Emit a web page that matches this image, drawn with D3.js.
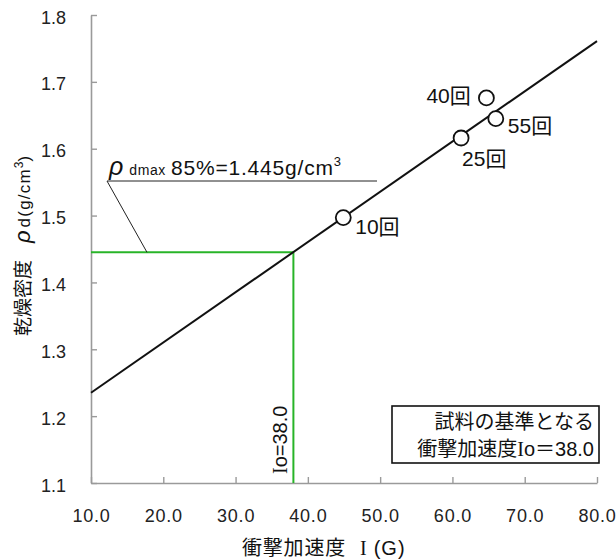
<!DOCTYPE html>
<html>
<head>
<meta charset="utf-8">
<script src="https://cdn.jsdelivr.net/npm/d3@7/dist/d3.min.js"></script>
<style>
  html, body { margin: 0; padding: 0; background: #fff; }
  svg { display: block; }
  .num { font-family: "Liberation Sans", Arial, sans-serif; }
  .jp { font-family: "Liberation Sans", "Noto Sans CJK JP", sans-serif; }
  .serif { font-family: "Liberation Serif", "Times New Roman", serif; }
</style>
</head>
<body>
<svg id="chart" width="616" height="559"></svg>
<script>
// Impact acceleration vs. dry density
const blowLabels = ["10回", "25回", "40回", "55回"];
const accel = [44.9, 61.2, 64.7, 66.0];
const density = [1.497, 1.616, 1.676, 1.645];

// fitted line end points
const fitX = [10, 80];
const fitY = [1.235, 1.761];

// reference density (85% of max) and the matching acceleration
const rhoTarget = 1.445;
const io = 38.0;

const xTicks = [10, 20, 30, 40, 50, 60, 70, 80];
const yTicks = [1.1, 1.2, 1.3, 1.4, 1.5, 1.6, 1.7, 1.8];

const svg = d3.select("#chart");
const x = d3.scaleLinear().domain([10, 80]).range([91, 597]);
const y = d3.scaleLinear().domain([1.1, 1.8]).range([483, 15]);

const axisColor = "#9a9a9a";

// axes
const xAxis = svg.append("g").attr("transform", `translate(0,${y(1.1)})`)
  .call(d3.axisBottom(x).tickValues(xTicks).tickSizeInner(-6).tickSizeOuter(0).tickFormat(d3.format(".1f")).tickPadding(26));
const yAxis = svg.append("g").attr("transform", `translate(${x(10)},0)`)
  .call(d3.axisLeft(y).tickValues(yTicks).tickSizeInner(-6).tickSizeOuter(0).tickFormat(d3.format(".1f")).tickPadding(25));

[xAxis, yAxis].forEach(g => {
  g.select(".domain").attr("stroke", axisColor).attr("stroke-width", 1.6);
  g.selectAll(".tick line").attr("stroke", axisColor).attr("stroke-width", 1.4);
  g.selectAll(".tick text")
    .attr("class", "num")
    .attr("fill", "#222")
    .style("font-size", "18px");
});
xAxis.selectAll(".tick text").attr("dy", "0.71em").style("letter-spacing", "0.8px");
yAxis.selectAll(".tick text").attr("dy", "0.45em");

// reference lines (green)
const green = "#28b428";
svg.append("line")
  .attr("x1", x(10)).attr("x2", x(io))
  .attr("y1", y(rhoTarget)).attr("y2", y(rhoTarget))
  .attr("stroke", green).attr("stroke-width", 2);
svg.append("line")
  .attr("x1", x(io)).attr("x2", x(io))
  .attr("y1", y(rhoTarget)).attr("y2", y(1.1))
  .attr("stroke", green).attr("stroke-width", 2);

// fitted line
const line = d3.line().x(d => x(d[0])).y(d => y(d[1]));
svg.append("path")
  .datum(d3.zip(fitX, fitY))
  .attr("d", line)
  .attr("fill", "none")
  .attr("stroke", "#111")
  .attr("stroke-width", 2);

// measured points
svg.selectAll("circle.pt")
  .data(d3.range(accel.length))
  .join("circle")
  .attr("class", "pt")
  .attr("cx", i => x(accel[i]))
  .attr("cy", i => y(density[i]))
  .attr("r", 7.5)
  .attr("fill", "#fff")
  .attr("stroke", "#111")
  .attr("stroke-width", 1.8);

// point labels
const labelOffset = [[12, 16], [1, 28], [-60, 5], [12, 14]];
svg.selectAll("text.pl")
  .data(d3.range(blowLabels.length))
  .join("text")
  .attr("class", "pl jp")
  .attr("x", i => x(accel[i]) + labelOffset[i][0])
  .attr("y", i => y(density[i]) + labelOffset[i][1])
  .style("font-size", "21px")
  .attr("fill", "#111")
  .text(i => blowLabels[i]);

// ρdmax annotation with leader line
const annX0 = 107, annY0 = 181;
svg.append("polyline")
  .attr("points", `${377},${annY0} ${annX0},${annY0} ${147},${y(rhoTarget)}`)
  .attr("fill", "none")
  .attr("stroke", "#222")
  .attr("stroke-width", 1);
const ann = svg.append("text")
  .attr("class", "num")
  .attr("x", 109).attr("y", 175)
  .attr("fill", "#111");
ann.append("tspan").style("font-size", "25px").style("font-style", "italic").text("ρ");
ann.append("tspan").attr("dx", 6).style("font-size", "14px").style("letter-spacing", "0.6px").text("dmax");
ann.append("tspan").attr("dx", 5).style("font-size", "21px").style("letter-spacing", "0.8px").text("85%=1.445g/cm");
ann.append("tspan").attr("dy", -9).style("font-size", "13px").text("3");

// Io label along the vertical reference line
const ioText = svg.append("text")
  .attr("transform", `translate(${x(io) - 6},474) rotate(-90)`)
  .style("font-size", "20px")
  .attr("fill", "#111");
ioText.append("tspan").attr("class", "serif").text("I");
ioText.append("tspan").attr("class", "num").text("o=38.0");

// note box
svg.append("rect")
  .attr("x", 392).attr("y", 406).attr("width", 207).attr("height", 57)
  .attr("fill", "#fff").attr("stroke", "#111").attr("stroke-width", 1.6);
svg.append("text").attr("class", "jp")
  .attr("x", 594).attr("y", 429).attr("text-anchor", "end")
  .style("font-size", "20px").attr("fill", "#111")
  .text("試料の基準となる");
const box2 = svg.append("text").attr("class", "jp")
  .attr("x", 594).attr("y", 456).attr("text-anchor", "end")
  .style("font-size", "20px").attr("fill", "#111");
box2.append("tspan").text("衝撃加速度");
box2.append("tspan").attr("class", "serif").text("I");
box2.append("tspan").text("o＝38.0");

// axis titles
const xt = svg.append("text").attr("class", "jp")
  .attr("x", 242).attr("y", 555)
  .style("font-size", "20px").attr("fill", "#111");
xt.append("tspan").style("letter-spacing", "0.8px").text("衝撃加速度");
xt.append("tspan").attr("class", "serif").attr("dx", 14).text("I");
xt.append("tspan").attr("class", "num").attr("dx", 7).style("letter-spacing", "1px").text("(G)");

const yt = svg.append("text")
  .attr("class", "jp")
  .attr("transform", "translate(30,336) rotate(-90)")
  .attr("fill", "#111");
yt.append("tspan").style("font-size", "19px").text("乾燥密度");
yt.append("tspan").attr("dx", 17).style("font-size", "22px").style("font-style", "italic").attr("class", "num").text("ρ");
yt.append("tspan").attr("dx", 3).style("font-size", "17px").style("letter-spacing", "1.2px").attr("class", "num").text("d(g/cm");
yt.append("tspan").attr("dy", -7).style("font-size", "12px").attr("class", "num").text("3");
yt.append("tspan").attr("dy", 7).style("font-size", "17px").attr("class", "num").text(")");
</script>
</body>
</html>
